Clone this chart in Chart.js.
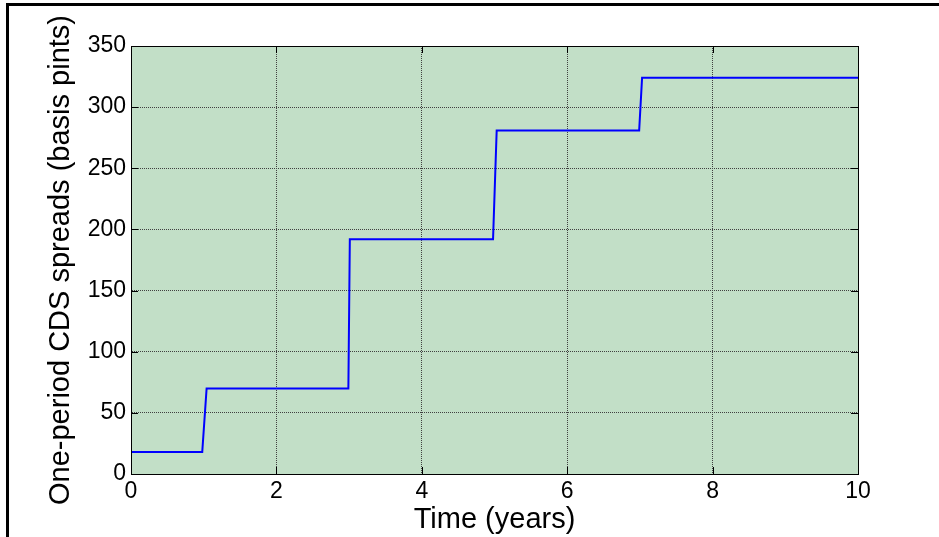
<!DOCTYPE html>
<html>
<head>
<meta charset="utf-8">
<script src="https://cdn.jsdelivr.net/npm/chart.js@4/dist/chart.umd.min.js"></script>
<style>
  body { margin: 0; background: #fff; }
  #wrap { position: relative; width: 939px; height: 537px; overflow: hidden; }
  #frame { position: absolute; left: 6px; top: 3px; width: 1000px; height: 600px;
           border-top: 3px solid #000; border-left: 3px solid #000; pointer-events: none; }
</style>
</head>
<body>
<div id="wrap">
  <canvas id="myChart" width="939" height="537"></canvas>
  <div id="frame"></div>
</div>
<script>
// step curve
const times   = [0, 0.98, 1.04, 2.99, 3.01, 4.98, 5.03, 6.99, 7.03, 10];
const spreads = [18, 18, 70, 70, 192, 192, 281, 281, 324, 324];

const xTitle = 'Time (years)';
const yTitle = 'One-period CDS spreads (basis pints)';

const fontFam = 'Liberation Sans, Arial, Helvetica, sans-serif';

let points = [];
times.forEach((t, i) => {
    points.push({x: t, y: spreads[i]});
});

// green background, box and inward tick marks (matlab style)
const matlabAxes = {
    id: 'matlabAxes',
    beforeDraw(chart) {
        const a = chart.chartArea;
        const ctx = chart.ctx;
        ctx.save();
        ctx.fillStyle = '#c2dfc7';
        ctx.fillRect(a.left, a.top, a.right - a.left, a.bottom - a.top);
        ctx.restore();
    },
    afterDraw(chart) {
        const a = chart.chartArea;
        const ctx = chart.ctx;
        const len = 7;
        ctx.save();
        ctx.strokeStyle = '#000';
        ctx.lineWidth = 1;
        ctx.beginPath();
        chart.scales.x.ticks.forEach(t => {
            let px = Math.round(chart.scales.x.getPixelForValue(t.value)) + 0.5;
            ctx.moveTo(px, a.bottom); ctx.lineTo(px, a.bottom - len);
            ctx.moveTo(px, a.top); ctx.lineTo(px, a.top + len);
        });
        chart.scales.y.ticks.forEach(t => {
            let py = Math.round(chart.scales.y.getPixelForValue(t.value)) + 0.5;
            ctx.moveTo(a.left, py); ctx.lineTo(a.left + len, py);
            ctx.moveTo(a.right, py); ctx.lineTo(a.right - len, py);
        });
        ctx.stroke();
        ctx.strokeRect(Math.round(a.left) + 0.5, Math.round(a.top) + 0.5,
                       Math.round(a.right - a.left), Math.round(a.bottom - a.top));
        ctx.restore();
    }
};

const gridOpts = {color: '#404040', lineWidth: 1, drawTicks: false};

new Chart(document.getElementById('myChart'), {
    type: 'line',
    data: {
        datasets: [{
            data: points,
            borderColor: '#0000ff',
            borderWidth: 2,
            pointRadius: 0,
            fill: false,
            tension: 0
        }]
    },
    options: {
        responsive: false,
        animation: false,
        devicePixelRatio: 1,
        layout: {padding: {top: 46, right: 81, left: 0, bottom: 0}},
        plugins: {legend: {display: false}, tooltip: {enabled: false}},
        scales: {
            x: {
                type: 'linear', min: 0, max: 10,
                afterFit: s => { s.height = 63; },
                ticks: {stepSize: 2, padding: 4, color: '#000', font: {family: fontFam, size: 23}, maxRotation: 0},
                grid: gridOpts,
                border: {display: true, color: '#000', width: 1, dash: [1, 1]},
                title: {display: true, text: xTitle, color: '#000',
                        font: {family: fontFam, size: 29}, padding: {top: 0, bottom: 0}}
            },
            y: {
                type: 'linear', min: 0, max: 350,
                afterFit: s => { s.width = 131; },
                ticks: {stepSize: 50, padding: 5, color: '#000', font: {family: fontFam, size: 23}},
                grid: gridOpts,
                border: {display: true, color: '#000', width: 1, dash: [1, 1]},
                title: {display: true, text: yTitle, color: '#000',
                        font: {family: fontFam, size: 29}, padding: {top: 44, bottom: 0}}
            }
        }
    },
    plugins: [matlabAxes]
});
</script>
</body>
</html>
